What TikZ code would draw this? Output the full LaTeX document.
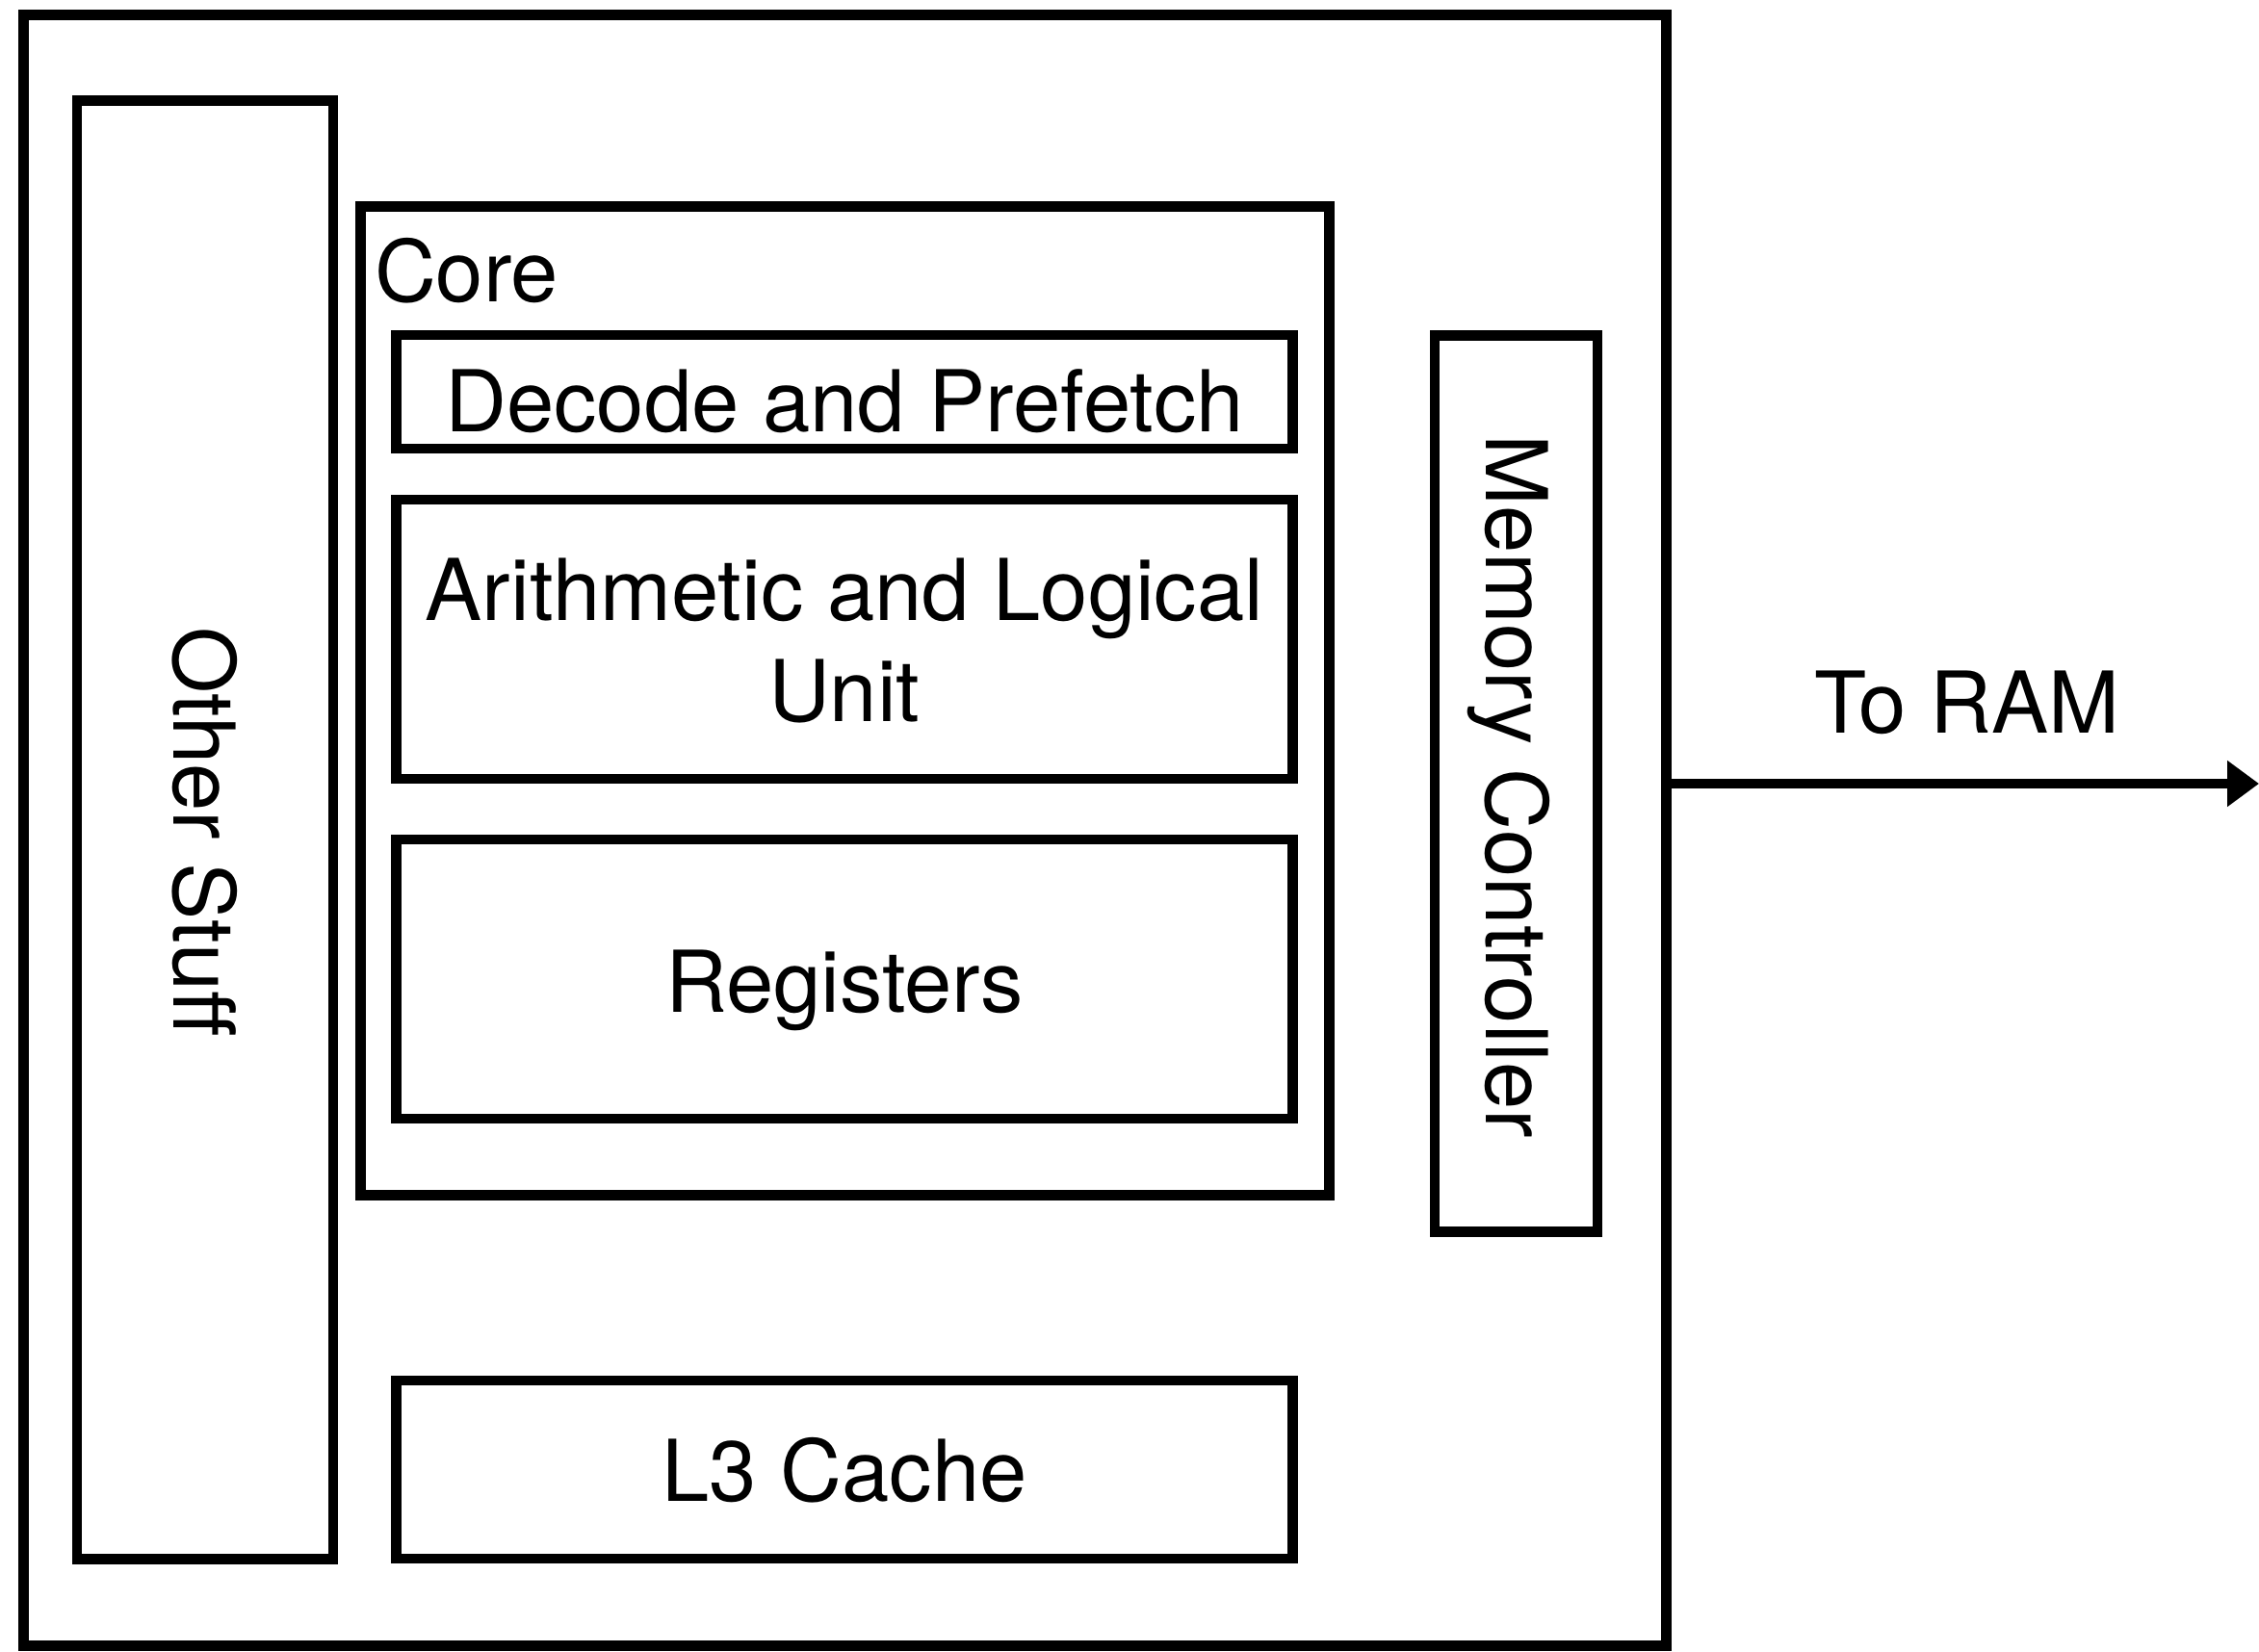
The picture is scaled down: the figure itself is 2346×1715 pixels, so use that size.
\documentclass[tikz,border=0pt]{standalone}
\usepackage{fontspec}
\setmainfont{TeX Gyre Heros}
\usetikzlibrary{arrows.meta}
\tikzset{
  blk/.style={draw=black, line width=0.105cm, inner sep=0pt, outer sep=0pt},
  lbl/.style={inner sep=0pt, outer sep=0pt, anchor=base, font=\fontsize{25.2pt}{29.6pt}\selectfont, align=center},
  arr/.style={line width=0.105cm, -{Triangle[length=0.33cm, width=0.46cm]}}
}
\begin{document}
\begin{tikzpicture}[x=0.01cm, y=-0.01cm]
\useasboundingbox (0,0) rectangle (2346,1715);
% boxes
\node[blk, minimum width=17.05cm, minimum height=16.93cm] (outer) at (877.5,862.5) {};
\node[blk, minimum width=2.66cm, minimum height=15.14cm] (other) at (213,862) {};
\node[blk, minimum width=10.05cm, minimum height=10.26cm] (core) at (877.5,728) {};
\node[blk, minimum width=9.30cm, minimum height=1.18cm] (decode) at (877,407) {};
\node[blk, minimum width=9.30cm, minimum height=2.90cm] (alu) at (877,664) {};
\node[blk, minimum width=9.30cm, minimum height=2.90cm] (regs) at (877,1017) {};
\node[blk, minimum width=1.69cm, minimum height=9.30cm] (memctl) at (1574.5,814) {};
\node[blk, minimum width=9.30cm, minimum height=1.85cm] (l3) at (877,1526.5) {};
% labels
\node[lbl, anchor=base west] (coreT) at (389,313) {Core};
\node[lbl] (decodeT) at (877,448) {Decode and Prefetch};
\node[lbl] (aluT) at (877,749) {Arithmetic and Logical\\Unit};
\node[lbl] (regsT) at (877,1051) {Registers};
\node[lbl] (l3T) at (877,1559) {L3 Cache};
\node[lbl, rotate=-90] (otherT) at (180,864) {Other Stuff};
\node[lbl, rotate=-90] (memT) at (1543,817) {Memory Controller};
\node[lbl] (ramT) at (2043,761) {To RAM};
% connector
\coordinate (ram) at (2346,814);
\draw[arr] (memctl.center -| outer.east) -- (ram);
\end{tikzpicture}
\end{document}
